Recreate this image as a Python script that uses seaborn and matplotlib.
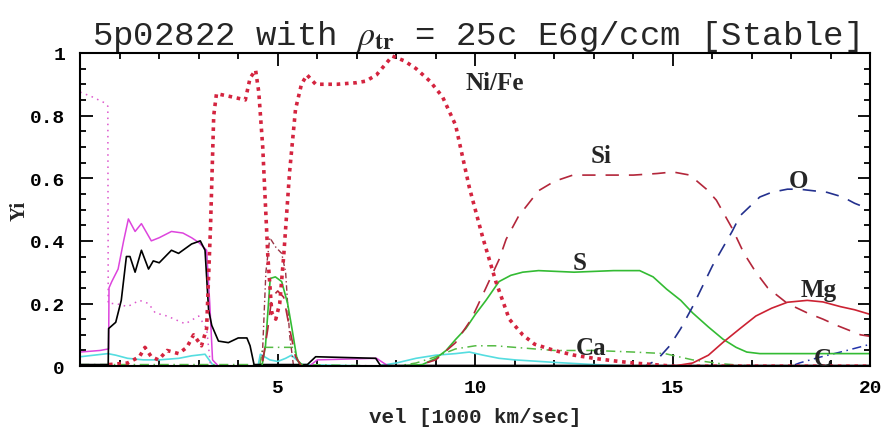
import matplotlib
matplotlib.use("Agg")
import matplotlib.pyplot as plt
from matplotlib.ticker import MultipleLocator, FuncFormatter
import seaborn as sns

# abundance profiles (x in 1000 km/s, y = mass fraction)
nife_x = [0.73, 1.2, 1.5, 1.64, 1.8, 1.98, 2.2, 2.49, 2.7, 2.87, 3.07, 3.2, 3.3, 3.38, 3.45, 3.83, 4.18,
          4.3, 4.44, 4.52, 4.62, 4.75, 4.85, 4.95, 5.05, 5.15, 5.3, 5.45, 5.6, 5.74, 5.96, 6.5, 7.0, 7.23,
          7.5, 7.9, 8.2, 8.5, 8.85, 9.17, 9.5, 9.85, 10.19, 10.52, 10.86, 11.2, 11.5, 12.0, 12.5, 13.0,
          13.5, 14.0, 14.5, 15.0, 20.0]
nife_y = [0.005, 0.01, 0.03, 0.06, 0.03, 0.02, 0.05, 0.04, 0.06, 0.10, 0.065, 0.12, 0.45, 0.80, 0.87, 0.86,
          0.85, 0.92, 0.945, 0.875, 0.70, 0.35, 0.17, 0.15, 0.20, 0.35, 0.62, 0.82, 0.90, 0.93, 0.90, 0.90,
          0.905, 0.91, 0.93, 0.99, 0.975, 0.95, 0.91, 0.86, 0.77, 0.57, 0.41, 0.27, 0.15, 0.10, 0.07, 0.05,
          0.035, 0.025, 0.017, 0.01, 0.005, 0.0, 0.0]

si_x = [0, 4.6, 4.75, 4.85, 5.0, 5.15, 5.3, 5.45, 5.6, 8.5, 9.0, 9.5, 9.9, 10.27, 10.6, 10.78, 11.1, 11.29,
        11.6, 12.0, 12.47, 13.3, 14.0, 14.6, 15.0, 15.43, 15.85, 16.1, 16.5, 16.8, 17.1, 17.4, 17.9, 18.4,
        18.8, 19.15, 19.75, 20.0]
si_y = [0, 0.0, 0.12, 0.22, 0.24, 0.22, 0.12, 0.03, 0.0, 0.0, 0.02, 0.075, 0.15, 0.25, 0.34, 0.405, 0.48,
        0.51, 0.56, 0.59, 0.61, 0.61, 0.61, 0.615, 0.62, 0.61, 0.565, 0.53, 0.44, 0.36, 0.30, 0.25, 0.20,
        0.17, 0.15, 0.13, 0.10, 0.095]

s_x = [0, 4.6, 4.69, 4.81, 4.94, 5.1, 5.25, 5.36, 5.49, 5.65, 8.0, 8.66, 9.0, 9.26, 9.5, 9.76, 10.0, 10.27,
       10.6, 10.9, 11.2, 11.6, 12.5, 13.5, 14.16, 14.5, 14.84, 15.2, 15.5, 15.9, 16.27, 16.6, 16.87, 17.2,
       18.0, 19.0, 20.0]
s_y = [0, 0.0, 0.065, 0.28, 0.285, 0.27, 0.2, 0.12, 0.02, 0.0, 0.0, 0.005, 0.025, 0.05, 0.085, 0.12, 0.165,
       0.21, 0.27, 0.29, 0.30, 0.305, 0.30, 0.305, 0.305, 0.285, 0.246, 0.21, 0.17, 0.125, 0.086, 0.06,
       0.045, 0.04, 0.04, 0.04, 0.04]

mg_x = [0, 15.0, 15.5, 15.9, 16.27, 16.7, 17.1, 17.5, 17.9, 18.4, 18.8, 19.24, 19.6, 20.0]
mg_y = [0, 0.0, 0.01, 0.035, 0.076, 0.12, 0.16, 0.185, 0.204, 0.21, 0.205, 0.19, 0.18, 0.165]

o_x = [0, 14.3, 14.6, 14.92, 15.2, 15.5, 16.0, 16.5, 16.7, 17.2, 17.5, 17.9, 18.2, 18.9, 19.3, 19.6, 20.0]
o_y = [0, 0.0, 0.02, 0.065, 0.12, 0.19, 0.32, 0.43, 0.48, 0.54, 0.555, 0.565, 0.565, 0.555, 0.54, 0.52, 0.50]

c_x = [0, 18.0, 18.2, 18.7, 19.4, 20.0]
c_y = [0, 0.0, 0.01, 0.028, 0.05, 0.07]

ca_x = [0, 4.55, 4.62, 5.4, 5.55, 8.0, 8.5, 9.0, 9.5, 10.0, 10.5, 11.0, 11.5, 12.0, 13.0, 14.0, 14.8, 15.5,
        16.2, 17.0, 20.0]
ca_y = [0.005, 0.005, 0.06, 0.06, 0.005, 0.0, 0.01, 0.03, 0.055, 0.065, 0.065, 0.06, 0.055, 0.05, 0.05,
        0.045, 0.04, 0.02, 0.008, 0.0, 0.0]

h_x = [0, 0.5, 0.72, 0.73, 0.8, 0.96, 1.1, 1.22, 1.39, 1.55, 1.8, 2.0, 2.31, 2.6, 2.82, 3.0, 3.2, 3.28,
       3.35, 3.5, 5.8, 6.0, 7.5, 7.8, 20.0]
h_y = [0.045, 0.05, 0.055, 0.25, 0.27, 0.31, 0.40, 0.47, 0.43, 0.455, 0.40, 0.41, 0.43, 0.425, 0.41, 0.395,
       0.37, 0.2, 0.02, 0.0, 0.0, 0.02, 0.025, 0.0, 0.0]

he_x = [0, 0.71, 0.72, 0.9, 1.04, 1.17, 1.26, 1.39, 1.55, 1.73, 1.85, 2.0, 2.31, 2.49, 2.82, 3.04, 3.16,
        3.25, 3.33, 3.5, 3.75, 4.0, 4.22, 4.3, 4.4, 5.75, 5.96, 7.48, 7.6, 20.0]
he_y = [0.005, 0.005, 0.12, 0.14, 0.21, 0.35, 0.35, 0.30, 0.37, 0.31, 0.336, 0.33, 0.37, 0.36, 0.39, 0.40,
        0.37, 0.18, 0.13, 0.08, 0.075, 0.09, 0.09, 0.065, 0.005, 0.005, 0.03, 0.025, 0.002, 0.002]

pk_x = [0, 0.3, 0.63, 0.70, 0.71, 0.9, 1.2, 1.5, 1.73, 1.9, 2.2, 2.66, 3.0, 3.2, 3.3, 20.0]
pk_y = [0.875, 0.86, 0.84, 0.83, 0.2, 0.2, 0.19, 0.21, 0.2, 0.17, 0.16, 0.135, 0.16, 0.12, 0.0, 0.0]

fe_x = [0, 4.6, 4.7, 4.8, 4.95, 5.1, 5.2, 5.3, 5.4, 20.0]
fe_y = [0, 0.0, 0.3, 0.41, 0.38, 0.36, 0.30, 0.1, 0.0, 0.0]

ar_x = [0, 0.7, 0.9, 1.2, 1.6, 2.0, 2.5, 2.82, 3.16, 3.35, 3.5, 4.5, 4.56, 4.8, 5.0, 5.2, 5.35, 5.6, 7.5,
        8.0, 8.5, 9.0, 9.5, 9.85, 10.2, 10.6, 11.0, 12.0, 13.0, 14.0, 20.0]
ar_y = [0.03, 0.04, 0.035, 0.025, 0.02, 0.02, 0.025, 0.033, 0.038, 0.005, 0.0, 0.0, 0.038, 0.02, 0.015,
        0.025, 0.035, 0.005, 0.0, 0.01, 0.025, 0.035, 0.04, 0.045, 0.035, 0.025, 0.02, 0.012, 0.005, 0.0, 0.0]

base_x = [0, 20.0]
base_y = [0.002, 0.002]

labels = ["Ni/Fe", "Si", "S", "Ca", "Mg", "C", "O"]
label_x = [10.48, 13.18, 12.65, 12.92, 18.68, 18.8, 18.17]
label_y = [0.885, 0.652, 0.31, 0.038, 0.225, 0.005, 0.572]

sns.set_style("ticks")
plt.rcParams["mathtext.fontset"] = "stix"

fig = plt.figure(figsize=(8.81, 4.35), dpi=100)
ax = fig.add_axes([0.091, 0.156, 0.897, 0.72])

def curve(xs, ys, color, lw=1.0, ls="-"):
    sns.lineplot(x=xs, y=ys, ax=ax, color=color, lw=lw, linestyle=ls,
                 estimator=None, sort=False)

curve(base_x, base_y, "#7a1a8a", lw=1.5)
curve(ar_x, ar_y, "#55dde0", lw=1.2)
curve(ca_x, ca_y, "#55bb44", lw=1.1, ls=(0, (6, 3, 1, 3)))
curve(c_x, c_y, "#2233aa", lw=1.1, ls=(0, (6, 3, 1, 3)))
curve(pk_x, pk_y, "#dd55cc", lw=1.1, ls=(0, (1, 3)))
curve(fe_x, fe_y, "#993344", lw=1.0, ls=(0, (4, 2, 1, 2)))
curve(h_x, h_y, "#dd44dd", lw=1.1)
curve(he_x, he_y, "#000000", lw=1.2)
curve(s_x, s_y, "#33bb33", lw=1.2)
curve(mg_x, mg_y, "#cc2233", lw=1.2)
curve(o_x, o_y, "#23308e", lw=1.2, ls=(0, (8, 6)))
curve(si_x, si_y, "#b3263a", lw=1.2, ls=(0, (8, 6)))
curve(nife_x, nife_y, "#d4243f", lw=2.6, ls=(0, (1, 1.3)))

for name, lx, ly in zip(labels, label_x, label_y):
    ax.text(lx, ly, name, ha="center", va="baseline", fontsize=18,
            fontfamily="Liberation Serif", fontweight="bold")

ax.set_xlim(0, 20)
ax.set_ylim(0, 1)
ax.xaxis.set_major_locator(MultipleLocator(5))
ax.xaxis.set_minor_locator(MultipleLocator(1))
ax.yaxis.set_major_locator(MultipleLocator(0.2))
ax.yaxis.set_minor_locator(MultipleLocator(0.05))
ax.xaxis.set_major_formatter(FuncFormatter(lambda v, p: "" if v == 0 else f"{v:g}"))
ax.yaxis.set_major_formatter(FuncFormatter(lambda v, p: f"{v:g}"))
ax.tick_params(which="both", direction="in", top=True, right=True, width=1.3, colors="black")
ax.tick_params(which="major", length=9)
ax.tick_params(which="minor", length=4.5)
ax.tick_params(axis="x", which="major", pad=9)
ax.tick_params(axis="y", which="major", pad=11)
for lab in ax.get_xticklabels() + ax.get_yticklabels():
    lab.set_fontfamily("Liberation Mono")
    lab.set_fontweight("bold")
    lab.set_fontsize(14)
for sp in ax.spines.values():
    sp.set_linewidth(1.5)
    sp.set_color("black")

ax.set_xlabel("vel [1000 km/sec]", fontfamily="Liberation Mono", fontweight="bold",
              fontsize=15, labelpad=8)
ax.set_ylabel("Yi", fontfamily="Liberation Serif", fontweight="bold", fontsize=15, labelpad=0)
ax.set_title(r"5p02822 with $\rho_{\mathbf{tr}}$ = 25c E6g/ccm [Stable]",
             fontfamily="Liberation Mono", fontsize=24.5, pad=6)

fig.savefig("out.png", dpi=100)
plt.close(fig)
